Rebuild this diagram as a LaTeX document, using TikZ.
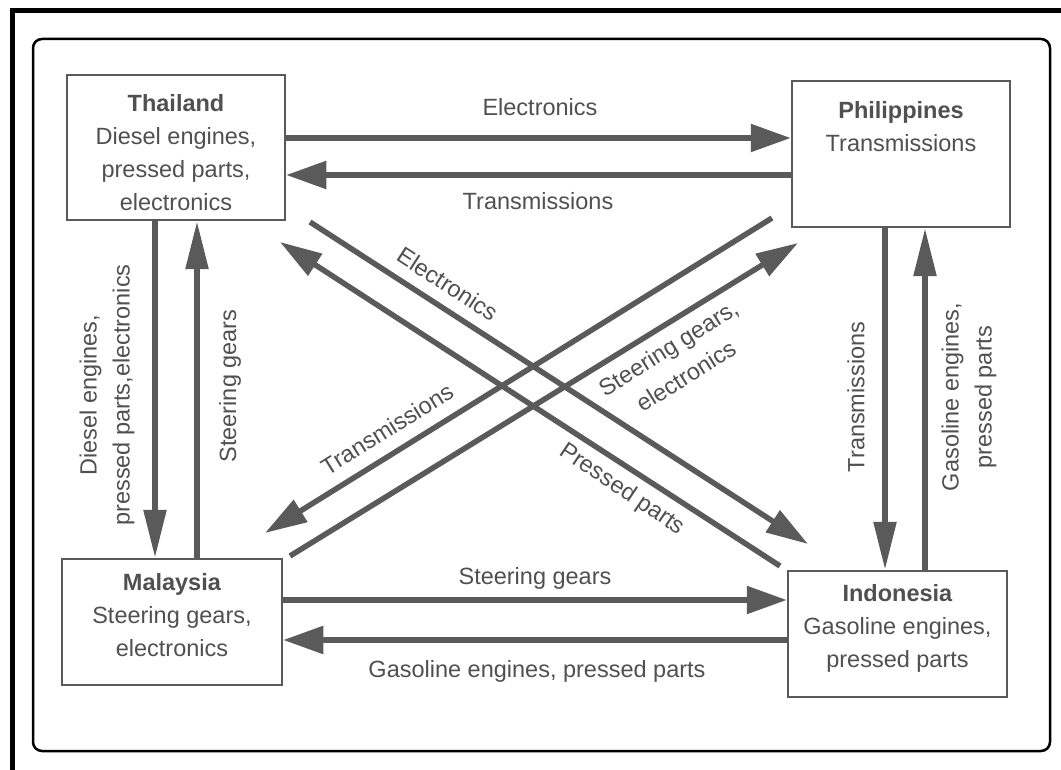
\documentclass[tikz,border=0pt]{standalone}
\usepackage{fontspec}
\setmainfont{Liberation Sans}
\usetikzlibrary{arrows.meta}
\definecolor{ink}{HTML}{5A5A5A}
\definecolor{txt}{HTML}{505050}
\begin{document}
\begin{tikzpicture}[x=1pt,y=-1pt,
  box/.style={draw=ink, line width=2.5pt, fill=white, inner sep=0pt},
  lab/.style={text=txt, font=\fontsize{23.5}{33}\selectfont, align=center, inner sep=0pt},
  arr/.style={draw=ink, line width=5.5pt, -{Triangle[length=40pt,width=27pt]}},
  varr/.style={draw=ink, line width=5.5pt, -{Triangle[length=48pt,width=22pt]}},
  darr/.style={draw=ink, line width=5.5pt, -{Triangle[length=42pt,width=25pt]}},
]
\useasboundingbox (0,0) rectangle (1061,770);
\fill[white] (0,0) rectangle (1061,770);
% outer frame (left and top only)
\draw[line width=5pt] (12.5,770) -- (12.5,11) -- (1061,11);
% inner rounded frame
\draw[line width=2.5pt, rounded corners=9pt] (33,39) rectangle (1050,751);

% boxes
\node[box, minimum width=218pt, minimum height=145pt] (tha) at (176,147.5) {};
\node[lab] (thal) at (176,152.5) {\textbf{Thailand}\\Diesel engines,\\pressed parts,\\electronics};
\node[box, minimum width=218pt, minimum height=146pt] (phi) at (901,154) {};
\node[lab, anchor=north] (phil) at (901,101) {\textbf{Philippines}\\Transmissions};
\node[box, minimum width=220pt, minimum height=126pt] (mal) at (172,622) {};
\node[lab] (mall) at (172,615) {\textbf{Malaysia}\\Steering gears,\\electronics};
\node[box, minimum width=219pt, minimum height=126pt] (ind) at (897.5,634) {};
\node[lab] (indl) at (897.5,628.5) {\textbf{Indonesia}\\Gasoline engines,\\pressed parts};

% horizontal arrows
\draw[arr] (tha.east |- 0,138) -- (phi.west |- 0,138);
\draw[arr] (phi.west |- 0,175) -- (tha.east |- 0,175);
\draw[arr] (mal.east |- 0,600) -- (ind.west |- 0,600);
\draw[arr] (ind.west |- 0,640) -- (mal.east |- 0,640);

% vertical arrows
\draw[varr] (tha.south -| 155,0) -- (mal.north -| 155,0);
\draw[varr] (mal.north -| 197,0) -- (tha.south -| 197,0);
\draw[varr] (phi.south -| 885,0) -- (ind.north -| 885,0);
\draw[varr] (ind.north -| 925,0) -- (phi.south -| 925,0);

% diagonal arrows
\coordinate (a1) at (310,222); \coordinate (a2) at (808,544);
\coordinate (b1) at (780,566); \coordinate (b2) at (280,242);
\coordinate (c1) at (772,218); \coordinate (c2) at (265,533);
\coordinate (d1) at (290,556); \coordinate (d2) at (798,243);
\draw[darr] (a1) -- (a2);
\draw[darr] (b1) -- (b2);
\draw[darr] (c1) -- (c2);
\draw[darr] (d1) -- (d2);

% labels
\node[lab] (l1) at (540,107) {Electronics};
\node[lab] (l2) at (538,201.5) {Transmissions};
\node[lab] (l3) at (535,578) {Steering gears};
\node[lab] (l4) at (537,671) {Gasoline engines, pressed parts};
\node[lab, rotate=90] (l5) at (107,395) {Diesel engines,\\pressed parts,electronics};
\node[lab, rotate=90] (l6) at (230,386) {Steering gears};
\node[lab, rotate=90] (l7) at (856,397) {Transmissions};
\node[lab, rotate=90] (l8) at (969,397) {Gasoline engines,\\pressed parts};
\node[lab, rotate=-33] (l9) at (448,284) {Electronics};
\node[lab, rotate=-34] (l10) at (622,490) {Pressed parts};
\node[lab, rotate=32] (l11) at (387,429) {Transmissions};
\node[lab, rotate=32] (l12) at (677,362) {Steering gears,\\electronics};
\end{tikzpicture}
\end{document}
